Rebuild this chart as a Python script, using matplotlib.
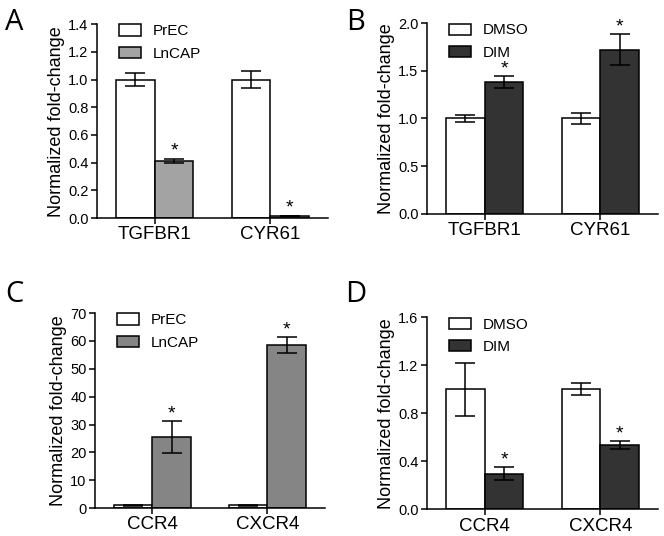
import numpy as np
import matplotlib
matplotlib.use("Agg")
import matplotlib.pyplot as plt

plt.rcParams['font.family'] = ['Liberation Sans', 'DejaVu Sans']

# panel data
genes_top = ["TGFBR1", "CYR61"]
genes_bot = ["CCR4", "CXCR4"]

prec_a = [1.0, 1.0]
prec_a_err = [0.05, 0.06]
lncap_a = [0.415, 0.015]
lncap_a_err = [0.015, 0.003]

dmso_b = [1.0, 1.0]
dmso_b_err = [0.04, 0.055]
dim_b = [1.38, 1.72]
dim_b_err = [0.06, 0.16]

prec_c = [1.0, 1.0]
prec_c_err = [0.1, 0.1]
lncap_c = [25.6, 58.6]
lncap_c_err = [5.7, 2.8]

dmso_d = [1.0, 1.0]
dmso_d_err = [0.22, 0.05]
dim_d = [0.295, 0.535]
dim_d_err = [0.055, 0.035]


def bar_panel(rect, cats, v1, e1, v2, e2, labels, color2, ylim, yticks, fmt):
    ax = fig.add_axes(rect)
    x = np.arange(len(cats))
    w = 0.335
    ax.bar(x - w/2, v1, w, color="white", edgecolor="black", linewidth=1.1,
           label=labels[0], zorder=2)
    ax.bar(x + w/2, v2, w, color=color2, edgecolor="black", linewidth=1.1,
           label=labels[1], zorder=2)
    ax.errorbar(x - w/2, v1, yerr=e1, fmt="none", ecolor="black", elinewidth=1.1,
                capsize=7.5, capthick=1.1, zorder=3)
    ax.errorbar(x + w/2, v2, yerr=e2, fmt="none", ecolor="black", elinewidth=1.1,
                capsize=7.5, capthick=1.1, zorder=3)
    # significance stars just above the caps
    for xi, v, e in zip(x + w/2, v2, e2):
        ax.annotate("*", xy=(xi, v + e), xytext=(0, 2), textcoords="offset points",
                    ha="center", va="baseline", fontsize=14)
    ax.set_xlim(-0.5, 1.5)
    ax.set_ylim(*ylim)
    ax.set_yticks(yticks)
    ax.set_yticklabels([fmt.format(t) for t in yticks], fontsize=10.5)
    ax.set_xticks(x)
    ax.set_xticklabels(cats, fontsize=13.5)
    ax.tick_params(axis="x", length=4, width=1.1, pad=2)
    ax.tick_params(axis="y", length=4, width=1.1, pad=2)
    for s in ["top", "right"]:
        ax.spines[s].set_visible(False)
    for s in ["left", "bottom"]:
        ax.spines[s].set_linewidth(1.1)
    ax.set_ylabel("Normalized fold-change", fontsize=13, labelpad=2)
    ax.legend(loc="upper left", bbox_to_anchor=(0.07, 1.03), frameon=False,
              fontsize=11, handlelength=1.45, handleheight=0.75,
              labelspacing=0.55, handletextpad=0.75, borderaxespad=0)
    return ax


fig = plt.figure(figsize=(6.64, 5.36), dpi=100)

bar_panel([0.146, 0.593, 0.348, 0.362], genes_top, prec_a, prec_a_err, lncap_a, lncap_a_err,
          ["PrEC", "LnCAP"], "#a3a3a3", (0, 1.4), np.arange(0, 1.41, 0.2), "{:.1f}")
bar_panel([0.643, 0.601, 0.348, 0.356], genes_top, dmso_b, dmso_b_err, dim_b, dim_b_err,
          ["DMSO", "DIM"], "#333333", (0, 2.0), np.arange(0, 2.01, 0.5), "{:.1f}")
bar_panel([0.143, 0.052, 0.346, 0.364], genes_bot, prec_c, prec_c_err, lncap_c, lncap_c_err,
          ["PrEC", "LnCAP"], "#858585", (0, 70), np.arange(0, 71, 10), "{:.0f}")
bar_panel([0.643, 0.050, 0.348, 0.358], genes_bot, dmso_d, dmso_d_err, dim_d, dim_d_err,
          ["DMSO", "DIM"], "#333333", (0, 1.6), np.arange(0, 1.61, 0.4), "{:.1f}")

for lab, px, py in [("A", 5, 8), ("B", 346, 8), ("C", 5, 280), ("D", 345, 280)]:
    fig.text(px / 664, 1 - py / 536, lab, fontsize=21, family="Open Sans",
             ha="left", va="top")

fig.savefig("out.png", dpi=100)
